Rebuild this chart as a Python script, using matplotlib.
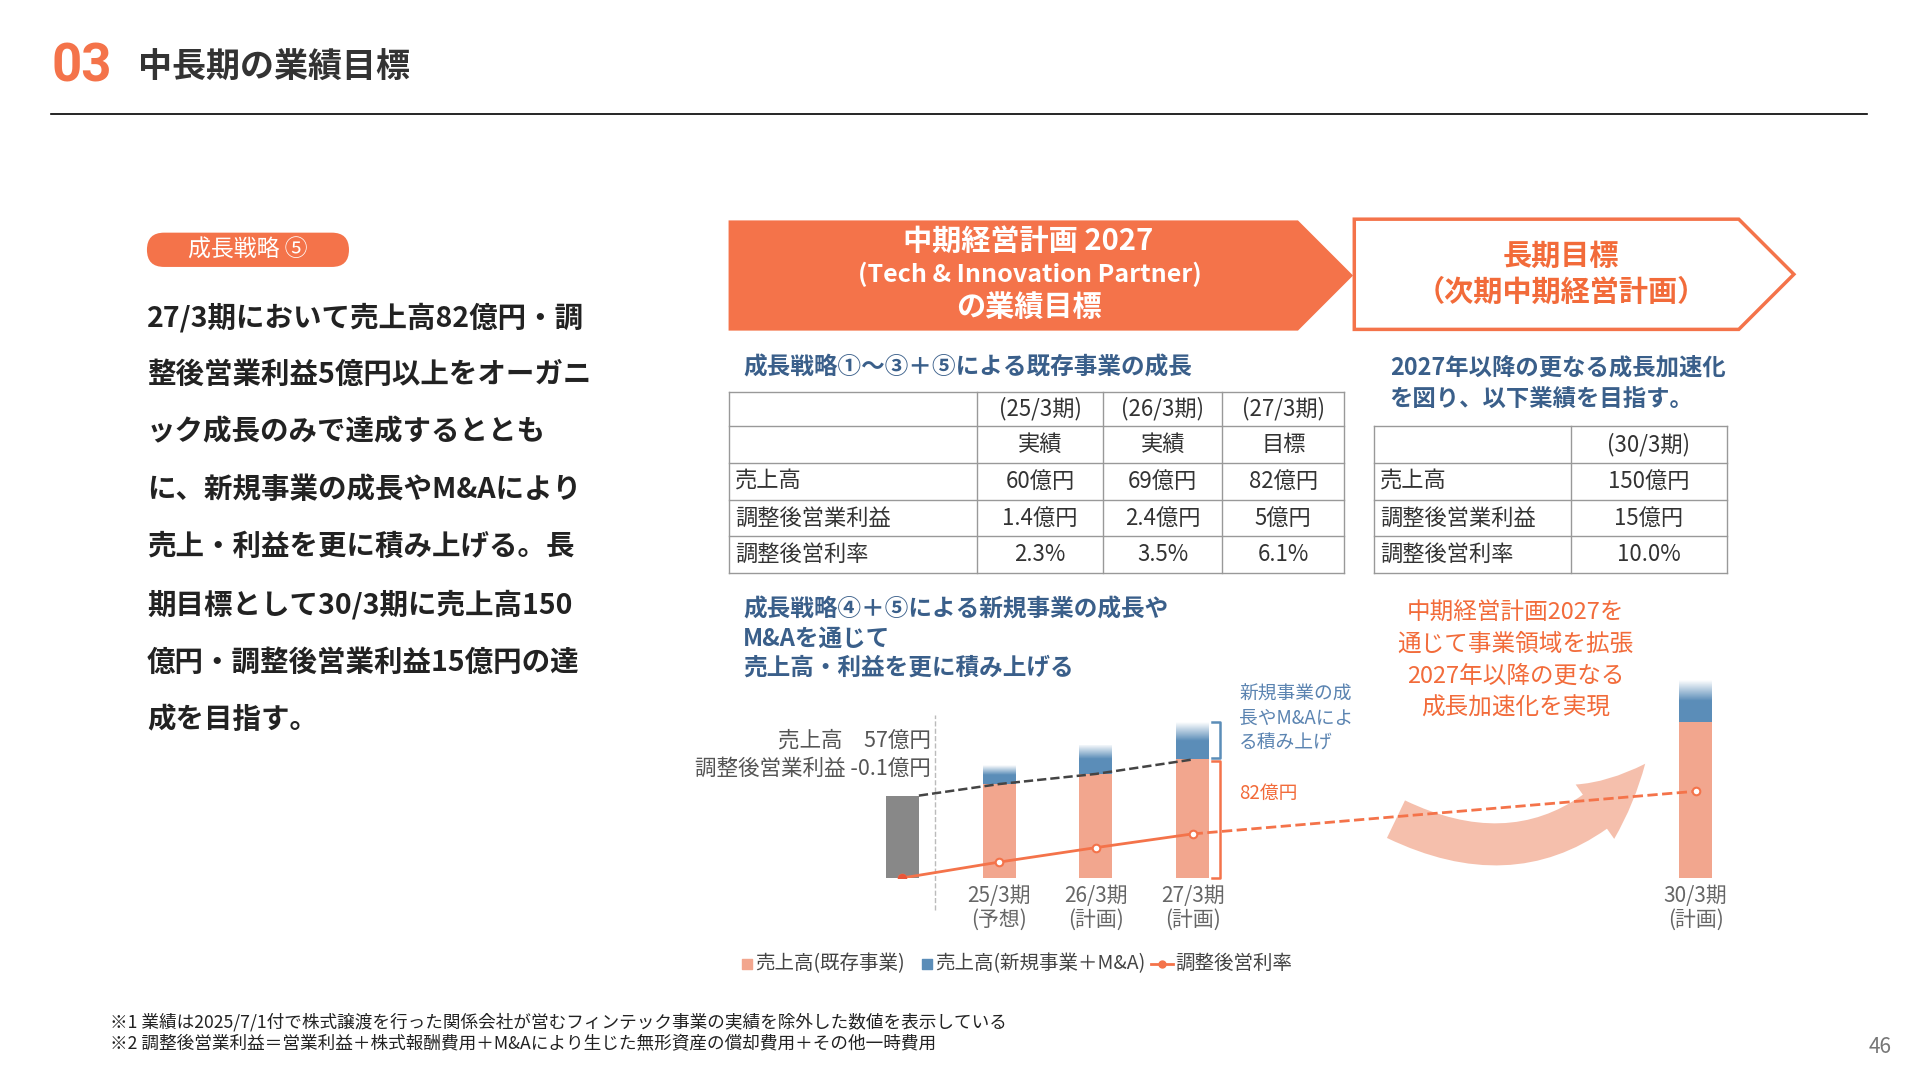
import numpy as np
import matplotlib.pyplot as plt
from matplotlib.patches import Polygon, FancyBboxPatch, FancyArrowPatch
from matplotlib.colors import LinearSegmentedColormap

plt.rcParams['font.family'] = ['Noto Sans CJK JP', 'DejaVu Sans']

# chart data (bar heights, in chart units)
periods = ["", "25/3期\n(予想)", "26/3期\n(計画)", "27/3期\n(計画)", "30/3期\n(計画)"]
x_pos = [0, 1, 2, 3, 8.2]
sales_base = [57, 65, 72, 82, 108]        # gray bar + existing business
sales_new = [0, 13, 20, 26, 29]           # new business + M&A
margin_line = [0, 11, 21, 30.5, 60]       # adjusted margin marker height

# tables
t1_head1 = ["", "(25/3期)", "(26/3期)", "(27/3期)"]
t1_head2 = ["", "実績", "実績", "目標"]
t1_rows = [["売上高", "60億円", "69億円", "82億円"],
           ["調整後営業利益", "1.4億円", "2.4億円", "5億円"],
           ["調整後営利率", "2.3%", "3.5%", "6.1%"]]
t2_rows = [["", "(30/3期)"],
           ["売上高", "150億円"],
           ["調整後営業利益", "15億円"],
           ["調整後営利率", "10.0%"]]

body = ["27/3期において売上高82億円・調",
        "整後営業利益5億円以上をオーガニ",
        "ック成長のみで達成するととも",
        "に、新規事業の成長やM&Aにより",
        "売上・利益を更に積み上げる。長",
        "期目標として30/3期に売上高150",
        "億円・調整後営業利益15億円の達",
        "成を目指す。"]

ORANGE = "#F4734A"
ORTXT = "#F26B3A"
BLUE_T = "#3A5F8A"
SALMON = "#F2A68E"
BLUE = "#5B8DB8"

W, H = 1568, 882
fig = plt.figure(figsize=(19.2, 10.8), dpi=100)
ax0 = fig.add_axes([0, 0, 1, 1])
ax0.set_xlim(0, W)
ax0.set_ylim(H, 0)
ax0.axis("off")

# header
ax0.text(42, 55, "03", color=ORANGE, fontsize=38, fontweight="bold", va="center", family=["Roboto", "DejaVu Sans"])
ax0.text(113, 55, "中長期の業績目標", fontsize=24.5, fontweight="bold", va="center", color="#333333")
ax0.plot([42, 1525], [93, 93], color="black", lw=1.2)

# left block
ax0.add_patch(FancyBboxPatch((120, 190), 165, 28, boxstyle="round,pad=0,rounding_size=14",
                             fc=ORANGE, ec="none"))
ax0.text(202, 204, "成長戦略 ⑤", color="white", fontsize=16.5, ha="center", va="center")
for i, line in enumerate(body):
    ax0.text(120, 259 + 47 * i, line, fontsize=20.5, fontweight="bold", va="center", color="#222222")

# banners
ax0.add_patch(Polygon([[595, 180], [1060, 180], [1105, 225], [1060, 270], [595, 270]], fc=ORANGE, ec="none"))
ax0.text(840, 197, "中期経営計画 2027", color="white", fontsize=21, fontweight="bold", ha="center", va="center")
ax0.text(841, 224, "(Tech & Innovation Partner)", color="white", fontsize=18, fontweight="bold", ha="center", va="center")
ax0.text(840, 251, "の業績目標", color="white", fontsize=21, fontweight="bold", ha="center", va="center")
ax0.add_patch(Polygon([[1106, 179], [1420, 179], [1465, 224], [1420, 269], [1106, 269]], fc="white", ec=ORANGE, lw=2.5))
ax0.text(1275, 209, "長期目標", color=ORTXT, fontsize=21, fontweight="bold", ha="center", va="center")
ax0.text(1275, 238, "（次期中期経営計画）", color=ORTXT, fontsize=21, fontweight="bold", ha="center", va="center")

# section headings
ax0.text(607, 300, "成長戦略①～③＋⑤による既存事業の成長", color=BLUE_T, fontsize=17, fontweight="bold", va="center")
ax0.text(1135, 300, "2027年以降の更なる成長加速化", color=BLUE_T, fontsize=16.8, fontweight="bold", va="center")
ax0.text(1135, 326, "を図り、以下業績を目指す。", color=BLUE_T, fontsize=16.8, fontweight="bold", va="center")
for i, s in enumerate(["成長戦略④＋⑤による新規事業の成長や", "M&Aを通じて", "売上高・利益を更に積み上げる"]):
    ax0.text(607, 498 + 23.5 * i, s, color=BLUE_T, fontsize=17, fontweight="bold", va="center")
for i, s in enumerate(["中期経営計画2027を", "通じて事業領域を拡張", "2027年以降の更なる", "成長加速化を実現"]):
    ax0.text(1238, 500 + 26 * i, s, color=ORTXT, fontsize=17, ha="center", va="center")


def draw_table(cols, rows_y, data):
    for y in rows_y:
        ax0.plot([cols[0], cols[-1]], [y, y], color="#999999", lw=1)
    for x in cols:
        ax0.plot([x, x], [rows_y[0], rows_y[-1]], color="#999999", lw=1)
    for r, row in enumerate(data):
        yc = (rows_y[r] + rows_y[r + 1]) / 2
        for c, val in enumerate(row):
            if c == 0:
                ax0.text(cols[0] + 5, yc, val, fontsize=16, va="center", color="#333333")
            else:
                ax0.text((cols[c] + cols[c + 1]) / 2, yc, val, fontsize=16, ha="center", va="center", color="#333333")


draw_table([595, 798, 901, 998, 1098], [320, 348, 378, 408, 438, 468], [t1_head1, t1_head2] + t1_rows)
draw_table([1122, 1283, 1410], [348, 378, 408, 438, 468], t2_rows)

# chart axes, calibrated to the slide
x0px, step, base, upx = 737, 79, 717, 1.18
xl = (-0.5, 8.7)
yl = (0, 150)
left = x0px + xl[0] * step
wid = (xl[1] - xl[0]) * step
hgt = (yl[1] - yl[0]) * upx
ax = fig.add_axes([left / W, 1 - base / H, wid / W, hgt / H])
ax.axis("off")
ax.patch.set_alpha(0)

bw = 0.34
colors = ["#888888"] + [SALMON] * 4
ax.bar(x_pos, sales_base, width=bw, color=colors, zorder=2)
ax.bar(x_pos, sales_new, bottom=sales_base, width=bw, color=BLUE, zorder=2)
# white fade at top of new-business segments
grad = np.linspace(0, 1, 50).reshape(-1, 1)
fade = LinearSegmentedColormap.from_list("fade", [(1, 1, 1, 0), (1, 1, 1, 1)])
for x, b, n in zip(x_pos, sales_base, sales_new):
    if n > 0:
        ax.imshow(grad, cmap=fade, extent=(x - bw / 2, x + bw / 2, b + n * 0.5, b + n),
                  origin="lower", aspect="auto", zorder=3)
ax.set_xlim(*xl)
ax.set_ylim(*yl)

# dashed trend on existing sales
ax.plot([x_pos[0] + bw / 2] + x_pos[1:4], [sales_base[0]] + sales_base[1:4], ls="--", color="#444444", lw=1.8, zorder=4)
# margin line
ax.plot(x_pos[:4], margin_line[:4], color=ORANGE, lw=2, zorder=5)
ax.plot(x_pos[3:], margin_line[3:], color=ORANGE, lw=2, ls="--", zorder=5)
ax.scatter(x_pos, margin_line, s=30, facecolor="white", edgecolor=ORANGE, lw=1.5, zorder=6)
ax.scatter(x_pos[:1], margin_line[:1], s=30, color="#E8563A", zorder=6)
ax.axvline(0.34, ymin=-0.15, ymax=0.75, color="#BBBBBB", ls="--", lw=1, clip_on=False)
for x, lab in zip(x_pos[1:], periods[1:]):
    ax.text(x, -5, lab, ha="center", va="top", fontsize=15, color="#666666", linespacing=1.1)

# brackets next to 27/3
bx = x_pos[3] + bw / 2 + 0.03
b3, n3 = sales_base[3], sales_new[3]
ax.plot([bx, bx + 0.08, bx + 0.08, bx], [b3 + n3, b3 + n3, b3 + 1, b3 + 1], color=BLUE, lw=1.8, clip_on=False)
ax.plot([bx, bx + 0.08, bx + 0.08, bx], [b3 - 1, b3 - 1, 0, 0], color=ORANGE, lw=1.8, clip_on=False)

ax0.text(760, 605, "売上高　57億円", fontsize=15.5, ha="right", va="center", color="#555555")
ax0.text(760, 628, "調整後営業利益 -0.1億円", fontsize=15.5, ha="right", va="center", color="#555555")
for i, s in enumerate(["新規事業の成", "長やM&Aによ", "る積み上げ"]):
    ax0.text(1012, 567 + 20 * i, s, fontsize=13.5, color="#5B84B1", va="center")
ax0.text(1012, 648, "82億円", fontsize=13.5, color=ORTXT, va="center")

# big curved arrow
ax0.add_patch(FancyArrowPatch((1138, 668), (1345, 622), connectionstyle="arc3,rad=0.4",
                              arrowstyle="simple,head_width=48,head_length=50,tail_width=30",
                              fc="#F5BCA8", ec="none", alpha=0.95, zorder=1))

# legend
ax0.scatter([610], [787], marker="s", s=50, color=SALMON)
ax0.text(617, 787, "売上高(既存事業)", fontsize=14, va="center", color="#444444")
ax0.scatter([757], [787], marker="s", s=50, color=BLUE)
ax0.text(764, 787, "売上高(新規事業＋M&A)", fontsize=14, va="center", color="#444444")
ax0.plot([940, 958], [787, 787], color=ORANGE, lw=2)
ax0.scatter([949], [787], s=25, color=ORANGE)
ax0.text(960, 787, "調整後営利率", fontsize=14, va="center", color="#444444")

# footnotes
ax0.text(90, 835, "※1 業績は2025/7/1付で株式譲渡を行った関係会社が営むフィンテック事業の実績を除外した数値を表示している", fontsize=12.7, va="center", color="#222222")
ax0.text(90, 853, "※2 調整後営業利益＝営業利益＋株式報酬費用＋M&Aにより生じた無形資産の償却費用＋その他一時費用", fontsize=12.7, va="center", color="#222222")
ax0.text(1545, 855, "46", fontsize=15, ha="right", va="center", color="#777777")

fig.savefig("out.png", dpi=100)
